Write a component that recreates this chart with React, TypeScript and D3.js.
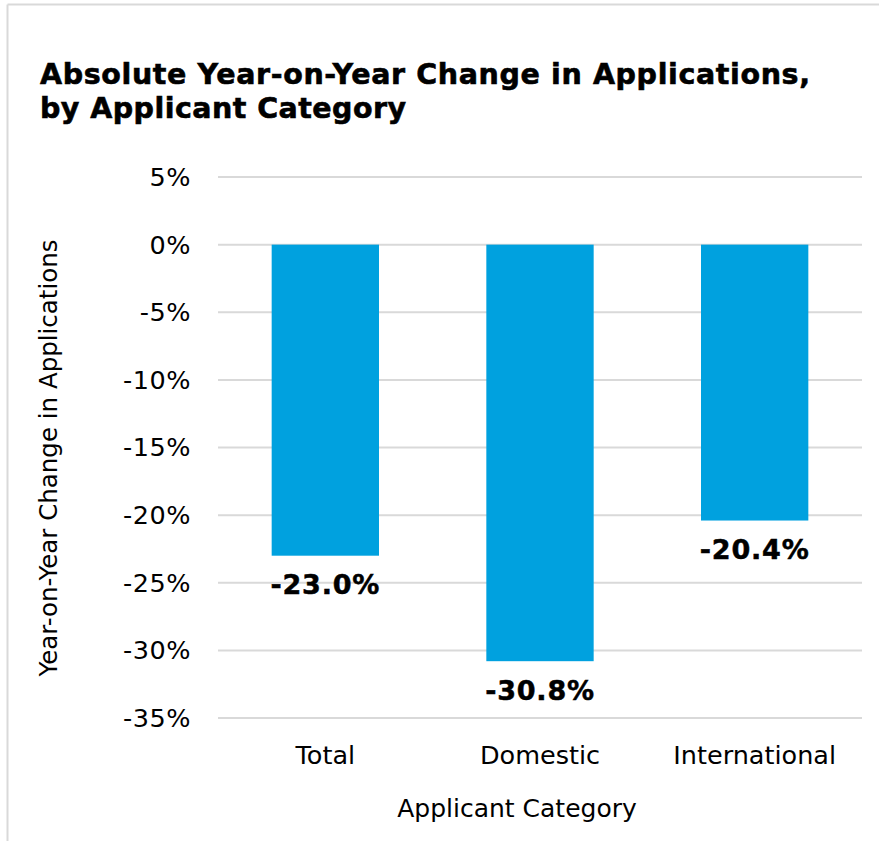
import React from "react";
import * as d3 from "d3";

// Applicant categories and their year-on-year change in applications (%)
const categories: string[] = ["Total", "Domestic", "International"];
const changes: number[] = [-23.0, -30.8, -20.4];
const yTicks: number[] = [5, 0, -5, -10, -15, -20, -25, -30, -35];

const W = 879;
const H = 841;

const FONT = "'DejaVu Sans', Verdana, sans-serif";

export default function App() {
  const left = 218;
  const right = 862;
  const y = d3.scaleLinear().domain([5, -35]).range([177, 718]);
  const x = d3
    .scaleBand<string>()
    .domain(categories)
    .range([left, right])
    .paddingInner(0.5)
    .paddingOuter(0.25);

  const fmtTick = (v: number) => `${v}%`;
  const fmtLabel = (v: number) => `${v.toFixed(1)}%`;

  return (
    <div style={{ position: "fixed", left: 0, top: 0 }}>
      <svg width={W} height={H} style={{ display: "block" }}>
        <rect x={0} y={0} width={W} height={H} fill="#ffffff" />
        {/* chart frame */}
        <line x1={7.5} x2={W} y1={4.5} y2={4.5} stroke="#d9d9d9" strokeWidth={2} />
        <line x1={7.5} x2={7.5} y1={4.5} y2={H} stroke="#d9d9d9" strokeWidth={2} />

        {/* title */}
        <g fontFamily={FONT} fontWeight="bold" fontSize={28.5} fill="#000" stroke="#000" strokeWidth={0.6}>
          <text x={40} y={84} textLength={770} lengthAdjust="spacing">
            Absolute Year-on-Year Change in Applications,
          </text>
          <text x={40} y={118} textLength={366} lengthAdjust="spacing">
            by Applicant Category
          </text>
        </g>

        {/* gridlines */}
        {yTicks.map((t) => (
          <line
            key={t}
            x1={left}
            x2={right}
            y1={y(t)}
            y2={y(t)}
            stroke="#d9d9d9"
            strokeWidth={2}
          />
        ))}

        {/* y tick labels */}
        {yTicks.map((t) => (
          <text
            key={"l" + t}
            x={191}
            y={y(t)}
            dy="0.35em"
            textAnchor="end"
            fontFamily={FONT}
            fontSize={25.5}
            letterSpacing={0.5}
            fill="#000"
          >
            {fmtTick(t)}
          </text>
        ))}

        {/* bars */}
        {categories.map((c, i) => (
          <rect
            key={c}
            x={x(c)!}
            y={y(0)}
            width={x.bandwidth()}
            height={y(changes[i]) - y(0)}
            fill="#00a1df"
          />
        ))}

        {/* value labels */}
        {categories.map((c, i) => (
          <text
            key={"v" + c}
            x={x(c)! + x.bandwidth() / 2}
            y={y(changes[i]) + 29}
            dy="0.35em"
            textAnchor="middle"
            fontFamily={FONT}
            fontWeight="bold"
            fontSize={27}
            letterSpacing={0.8}
            fill="#000"
            stroke="#000"
            strokeWidth={0.5}
          >
            {fmtLabel(changes[i])}
          </text>
        ))}

        {/* category labels */}
        {categories.map((c) => (
          <text
            key={"c" + c}
            x={x(c)! + x.bandwidth() / 2}
            y={755}
            dy="0.35em"
            textAnchor="middle"
            fontFamily={FONT}
            fontSize={25.5}
            fill="#000"
          >
            {c}
          </text>
        ))}

        {/* axis titles */}
        <text
          x={517}
          y={808}
          dy="0.35em"
          textAnchor="middle"
          fontFamily={FONT}
          fontSize={25}
          fill="#000"
        >
          Applicant Category
        </text>
        <text
          transform={`translate(48, ${458}) rotate(-90)`}
          dy="0.35em"
          textAnchor="middle"
          fontFamily={FONT}
          fontSize={24.5}
          fill="#000"
        >
          Year-on-Year Change in Applications
        </text>
      </svg>
    </div>
  );
}
